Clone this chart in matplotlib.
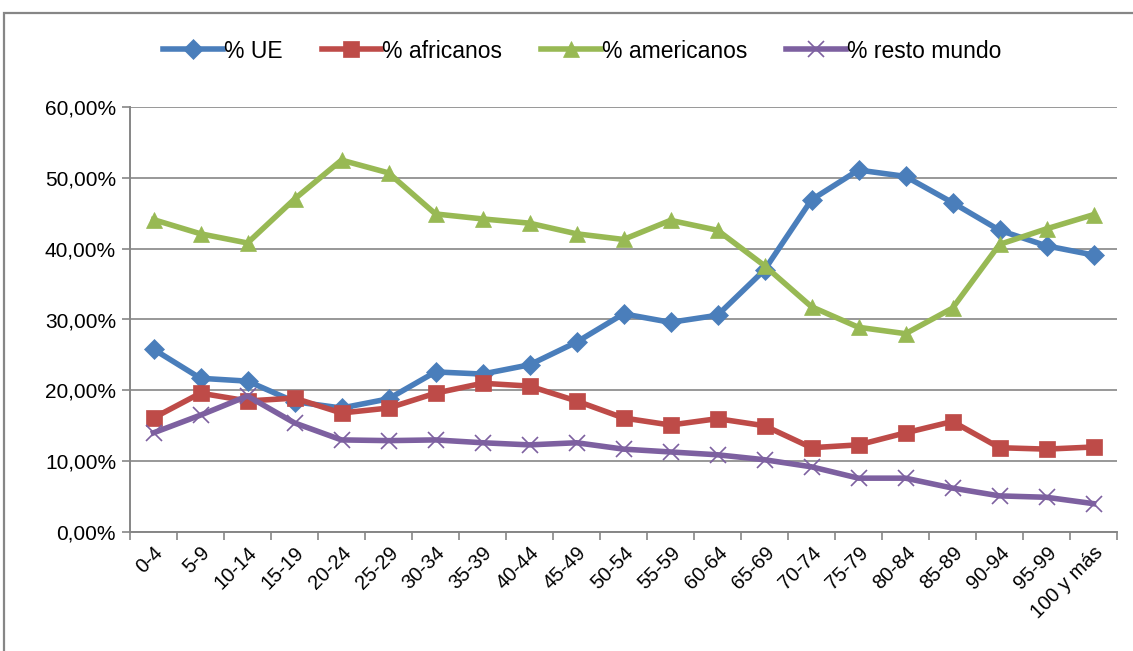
import numpy as np
import matplotlib; matplotlib.use('Agg')
import matplotlib.pyplot as plt
from matplotlib.patches import Rectangle
from matplotlib.ticker import FuncFormatter, MultipleLocator

plt.rcParams['font.family'] = ['Liberation Sans', 'DejaVu Sans']

grupos = ['0-4', '5-9', '10-14', '15-19', '20-24', '25-29', '30-34', '35-39', '40-44',
          '45-49', '50-54', '55-59', '60-64', '65-69', '70-74', '75-79', '80-84',
          '85-89', '90-94', '95-99', '100 y más']
ue = [25.8, 21.7, 21.3, 18.4, 17.5, 18.8, 22.6, 22.3, 23.6, 26.8, 30.8, 29.6, 30.6,
      37.0, 46.9, 51.1, 50.2, 46.5, 42.6, 40.4, 39.1]
africanos = [16.1, 19.6, 18.5, 18.9, 16.8, 17.5, 19.6, 21.0, 20.6, 18.5, 16.1, 15.1, 16.0,
             15.0, 11.9, 12.3, 14.0, 15.6, 11.9, 11.7, 12.0]
americanos = [44.1, 42.1, 40.8, 47.0, 52.5, 50.7, 44.9, 44.2, 43.6, 42.1, 41.3, 44.0, 42.6,
              37.6, 31.8, 28.9, 28.0, 31.6, 40.6, 42.8, 44.8]
resto = [14.0, 16.5, 19.2, 15.4, 13.0, 12.9, 13.0, 12.6, 12.3, 12.6, 11.7, 11.3, 10.9,
         10.2, 9.2, 7.6, 7.6, 6.2, 5.1, 4.9, 4.0]

series = [('% UE', ue, '#4A7EBB', 'D', 10),
          ('% africanos', africanos, '#BE4B48', 's', 11),
          ('% americanos', americanos, '#98B954', '^', 12),
          ('% resto mundo', resto, '#7D60A0', 'x', 12)]

fig = plt.figure(figsize=(11.33, 6.51), dpi=100)
ax = fig.add_axes([130/1133, 1 - 532/651, (1117 - 130)/1133, (532 - 107)/651])
x = np.arange(len(grupos))
for nombre, vals, col, mk, ms in series:
    ax.plot(x, np.array(vals) / 100, color=col, lw=4, marker=mk, markersize=ms,
            markeredgewidth=1.2 if mk == 'x' else 0.5, markeredgecolor=col,
            label=nombre, zorder=3)

ax.set_xlim(-0.5, len(grupos) - 0.5)
ax.set_ylim(0, 0.6)
ax.yaxis.set_major_locator(MultipleLocator(0.1))
ax.yaxis.set_major_formatter(FuncFormatter(lambda v, p: f'{v*100:.2f}%'.replace('.', ',')))
ax.grid(axis='y', color='#868686', lw=1.2, zorder=0)
ax.set_xticks(x)
ax.set_xticklabels(grupos, rotation=45, ha='right', rotation_mode='anchor', fontsize=14.5)
ax.set_xticks(np.arange(-0.5, len(grupos)), minor=True)
ax.tick_params(axis='x', which='major', length=0, pad=8)
ax.tick_params(axis='x', which='minor', length=6, color='#868686', width=1.2)
ax.tick_params(axis='y', length=6, color='#868686', width=1.2, labelsize=15, pad=4)
for s in ['top', 'right']:
    ax.spines[s].set_visible(False)
for s in ['left', 'bottom']:
    ax.spines[s].set_color('#868686')
    ax.spines[s].set_linewidth(1.4)

fig.legend(loc='center', bbox_to_anchor=(0.514, 1 - 51/651), ncol=4, frameon=False,
           fontsize=16.5, handlelength=2.6, handletextpad=0.05, columnspacing=1.7)

fig.patches.append(Rectangle((4/1133, -0.05), 1.2, 1 - 13/651 + 0.05, transform=fig.transFigure,
                             fill=False, edgecolor='#868686', lw=1.6))

plt.savefig('out.png', dpi=100)
